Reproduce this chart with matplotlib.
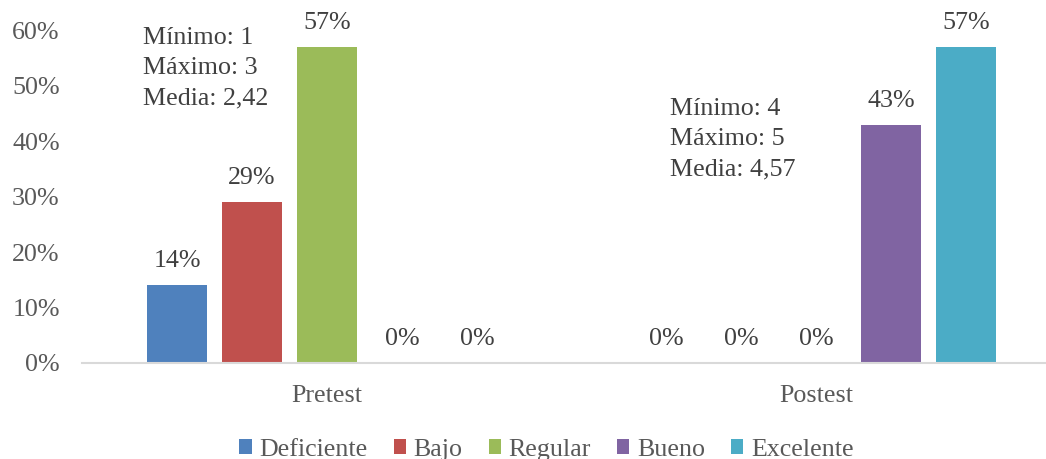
import matplotlib.pyplot as plt
import numpy as np

# Data
grupos = ['Pretest', 'Postest']
niveles = ['Deficiente', 'Bajo', 'Regular', 'Bueno', 'Excelente']
valores = {
    'Deficiente': [14, 0],
    'Bajo': [29, 0],
    'Regular': [57, 0],
    'Bueno': [0, 43],
    'Excelente': [0, 57],
}
colores = ['#4F81BD', '#C0504D', '#9BBB59', '#8064A2', '#4BACC6']
resumen_pre = ['Mínimo: 1', 'Máximo: 3', 'Media: 2,42']
resumen_post = ['Mínimo: 4', 'Máximo: 5', 'Media: 4,57']

plt.rcParams['font.family'] = ['Liberation Serif', 'DejaVu Serif']
fs = 18.7

fig = plt.figure(figsize=(10.46, 4.59), dpi=100)
ax = fig.add_axes([0.0784, 0.2092, 0.9206, 0.7246])

x = np.arange(len(grupos))
ancho = 0.1226
paso = 0.1532
for i, nivel in enumerate(niveles):
    pos = x + (i - 2) * paso
    barras = ax.bar(pos, [v / 100 for v in valores[nivel]], width=ancho,
                    color=colores[i], label=nivel, zorder=2)
    for b, v in zip(barras, valores[nivel]):
        ax.annotate(f'{v}%', (b.get_x() + b.get_width() / 2, b.get_height()),
                    xytext=(0, 17.3), textcoords='offset points',
                    ha='center', va='center', fontsize=fs, color='#404040',
                    annotation_clip=False)

# cuadros de resumen
for j, linea in enumerate(resumen_pre):
    ax.text(-0.376, 0.586 - j * 0.054, linea, ha='left', va='center',
            fontsize=fs, color='#404040')
for j, linea in enumerate(resumen_post):
    ax.text(0.7007, 0.458 - j * 0.054, linea, ha='left', va='center',
            fontsize=fs, color='#404040')

ax.set_xlim(-0.5005, 1.467)
ax.set_ylim(0, 0.6)
ax.set_xticks(x)
ax.set_xticklabels(grupos)
ax.set_yticks(np.arange(0, 0.61, 0.1))
ax.set_yticklabels([f'{int(round(t * 100))}%' for t in np.arange(0, 0.61, 0.1)])
ax.tick_params(axis='both', length=0, labelsize=fs, colors='#595959')
ax.tick_params(axis='x', pad=16)
ax.tick_params(axis='y', pad=16)

for s in ['top', 'right', 'left']:
    ax.spines[s].set_visible(False)
ax.spines['bottom'].set_color('#D9D9D9')
ax.spines['bottom'].set_linewidth(1.5)

fig.legend(loc='center', bbox_to_anchor=(0.5225, 0.02), ncol=5, frameon=False,
           fontsize=fs, handlelength=0.47, handleheight=0.47,
           handletextpad=0.3, columnspacing=1.0, labelcolor='#595959',
           borderaxespad=0, borderpad=0)

fig.savefig('out.png', dpi=100)
